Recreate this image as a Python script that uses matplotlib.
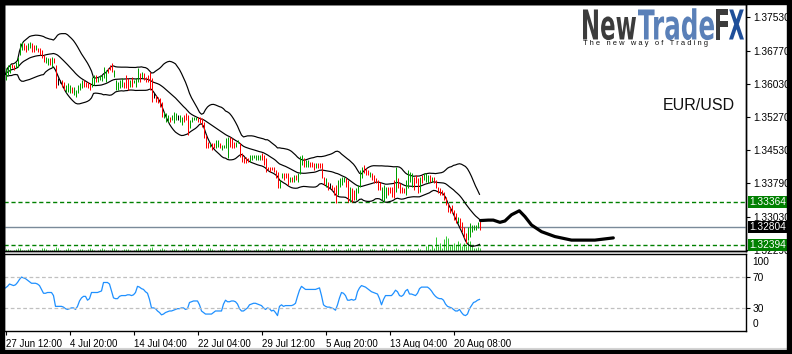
import numpy as np
import pandas as pd
import matplotlib
matplotlib.use("Agg")
import matplotlib.pyplot as plt
from matplotlib.textpath import TextPath
from matplotlib.patches import PathPatch, Rectangle
from matplotlib.font_manager import FontProperties
from matplotlib.transforms import Affine2D, blended_transform_factory

plt.rcParams['font.family'] = ['Liberation Sans', 'DejaVu Sans']

W, H = 792, 354

# EUR/USD H4 bars, 27 Jun 12:00 -> 20 Aug 2014
highs = [
    1.3638, 1.3645, 1.3647, 1.3647, 1.3645, 1.3652, 1.3663, 1.3695, 1.3697, 1.3695,
    1.3690, 1.3695, 1.3697, 1.3695, 1.3690, 1.3690, 1.3683, 1.3683, 1.3679, 1.3668,
    1.3663, 1.3661, 1.3661, 1.3663, 1.3661, 1.3645, 1.3616, 1.3611, 1.3611, 1.3607,
    1.3600, 1.3604, 1.3600, 1.3596, 1.3596, 1.3589, 1.3600, 1.3604, 1.3611, 1.3611,
    1.3607, 1.3607, 1.3604, 1.3618, 1.3622, 1.3622, 1.3618, 1.3622, 1.3622, 1.3641,
    1.3634, 1.3638, 1.3645, 1.3650, 1.3634, 1.3611, 1.3607, 1.3611, 1.3616, 1.3607,
    1.3622, 1.3616, 1.3611, 1.3618, 1.3611, 1.3616, 1.3638, 1.3627, 1.3629, 1.3627,
    1.3618, 1.3622, 1.3629, 1.3616, 1.3582, 1.3578, 1.3573, 1.3571, 1.3562, 1.3539,
    1.3537, 1.3533, 1.3528, 1.3533, 1.3539, 1.3537, 1.3533, 1.3533, 1.3528, 1.3533,
    1.3537, 1.3533, 1.3521, 1.3528, 1.3528, 1.3528, 1.3528, 1.3528, 1.3526, 1.3517,
    1.3488, 1.3472, 1.3469, 1.3469, 1.3469, 1.3476, 1.3476, 1.3469, 1.3465, 1.3465,
    1.3481, 1.3483, 1.3483, 1.3481, 1.3472, 1.3472, 1.3476, 1.3469, 1.3447, 1.3438,
    1.3438, 1.3436, 1.3443, 1.3443, 1.3443, 1.3443, 1.3443, 1.3443, 1.3447, 1.3443,
    1.3436, 1.3415, 1.3415, 1.3415, 1.3415, 1.3409, 1.3404, 1.3386, 1.3402, 1.3402,
    1.3402, 1.3402, 1.3393, 1.3393, 1.3397, 1.3397, 1.3402, 1.3440, 1.3443, 1.3436,
    1.3431, 1.3431, 1.3427, 1.3427, 1.3424, 1.3424, 1.3424, 1.3424, 1.3424, 1.3393,
    1.3391, 1.3382, 1.3379, 1.3375, 1.3371, 1.3375, 1.3386, 1.3391, 1.3393, 1.3393,
    1.3391, 1.3386, 1.3371, 1.3368, 1.3364, 1.3368, 1.3375, 1.3409, 1.3415, 1.3420,
    1.3413, 1.3409, 1.3404, 1.3402, 1.3397, 1.3391, 1.3386, 1.3382, 1.3371, 1.3375,
    1.3371, 1.3371, 1.3371, 1.3371, 1.3386, 1.3415, 1.3391, 1.3379, 1.3371, 1.3368,
    1.3386, 1.3409, 1.3404, 1.3402, 1.3393, 1.3397, 1.3391, 1.3393, 1.3397, 1.3402,
    1.3402, 1.3397, 1.3397, 1.3393, 1.3393, 1.3386, 1.3371, 1.3368, 1.3364, 1.3359,
    1.3348, 1.3334, 1.3325, 1.3330, 1.3318, 1.3312, 1.3303, 1.3301, 1.3292, 1.3281,
    1.3267, 1.3281, 1.3289, 1.3285, 1.3285, 1.3285, 1.3292, 1.3296,
]
lows = [
    1.3611, 1.3622, 1.3627, 1.3638, 1.3634, 1.3638, 1.3641, 1.3668, 1.3679, 1.3679,
    1.3674, 1.3679, 1.3683, 1.3674, 1.3674, 1.3679, 1.3674, 1.3668, 1.3661, 1.3652,
    1.3650, 1.3645, 1.3645, 1.3641, 1.3650, 1.3593, 1.3600, 1.3604, 1.3596, 1.3589,
    1.3584, 1.3584, 1.3582, 1.3582, 1.3578, 1.3573, 1.3582, 1.3589, 1.3593, 1.3596,
    1.3596, 1.3593, 1.3589, 1.3596, 1.3600, 1.3607, 1.3607, 1.3611, 1.3609, 1.3616,
    1.3607, 1.3627, 1.3634, 1.3629, 1.3618, 1.3589, 1.3589, 1.3593, 1.3596, 1.3593,
    1.3593, 1.3589, 1.3596, 1.3596, 1.3604, 1.3596, 1.3607, 1.3607, 1.3616, 1.3611,
    1.3607, 1.3607, 1.3589, 1.3562, 1.3571, 1.3562, 1.3560, 1.3550, 1.3528, 1.3526,
    1.3517, 1.3517, 1.3517, 1.3521, 1.3515, 1.3521, 1.3521, 1.3517, 1.3510, 1.3517,
    1.3521, 1.3488, 1.3504, 1.3517, 1.3521, 1.3521, 1.3517, 1.3515, 1.3506, 1.3481,
    1.3458, 1.3458, 1.3460, 1.3454, 1.3458, 1.3458, 1.3460, 1.3458, 1.3454, 1.3458,
    1.3458, 1.3436, 1.3460, 1.3458, 1.3458, 1.3460, 1.3469, 1.3438, 1.3427, 1.3424,
    1.3424, 1.3427, 1.3427, 1.3431, 1.3436, 1.3431, 1.3431, 1.3431, 1.3431, 1.3420,
    1.3404, 1.3409, 1.3404, 1.3409, 1.3404, 1.3391, 1.3368, 1.3368, 1.3391, 1.3386,
    1.3391, 1.3375, 1.3382, 1.3382, 1.3382, 1.3386, 1.3382, 1.3400, 1.3420, 1.3415,
    1.3415, 1.3415, 1.3415, 1.3415, 1.3409, 1.3413, 1.3413, 1.3413, 1.3391, 1.3375,
    1.3371, 1.3364, 1.3368, 1.3364, 1.3353, 1.3334, 1.3353, 1.3371, 1.3375, 1.3382,
    1.3371, 1.3337, 1.3337, 1.3337, 1.3341, 1.3341, 1.3357, 1.3371, 1.3391, 1.3402,
    1.3397, 1.3397, 1.3393, 1.3386, 1.3379, 1.3379, 1.3364, 1.3364, 1.3341, 1.3337,
    1.3346, 1.3353, 1.3357, 1.3348, 1.3346, 1.3359, 1.3368, 1.3357, 1.3357, 1.3357,
    1.3353, 1.3368, 1.3382, 1.3371, 1.3364, 1.3379, 1.3357, 1.3359, 1.3379, 1.3386,
    1.3382, 1.3379, 1.3382, 1.3382, 1.3379, 1.3368, 1.3357, 1.3353, 1.3353, 1.3341,
    1.3330, 1.3314, 1.3312, 1.3312, 1.3296, 1.3289, 1.3289, 1.3278, 1.3269, 1.3256,
    1.3245, 1.3251, 1.3258, 1.3269, 1.3274, 1.3274, 1.3278, 1.3274,
]
# G = up bar, R = down bar, K = doji
directions = (
    "GGGRRGGGGR" "RGGRRGRRRR" "GGRGRRKKRR" "GGGRGGGGGR" "RRRGGRGGGG"
    "GRRRGGGGGR" "RRGRGGGRGR" "RRRRKRRRRG" "GGRGGGKGGR" "RRGGGGRRRR"
    "RRGRRGGRGG" "GGRRRGGRRR" "RRGGGGGGRR" "RRRRRRRGGR" "RRGRGRGGGR"
    "GGRRRGRRRR" "GRKRRRGGGG" "RRGRRGGGGR" "RRGRRRRRGG" "GRRRRGRRRR"
    "GGGGRRRGRG" "GGRGRRRRRR" "RRRRRRGRRR" "RGGGGGGR"
)
volumes = [
    2400, 1900, 700, 500, 900, 2300, 3100, 2600, 1200, 600,
    800, 2100, 2800, 2400, 1500, 700, 600, 1000, 2600, 3300,
    2200, 900, 600, 800, 2500, 3600, 2700, 1300, 500, 900,
    2200, 2900, 1700, 800, 500, 1000, 2400, 2500, 1600, 600,
    700, 2000, 2700, 2100, 1100, 500, 800, 2300, 2600, 1900,
    900, 600, 1000, 2600, 3400, 2400, 1100, 400, 800, 1900,
    2500, 1800, 700, 500, 900, 2200, 2800, 2000, 1000, 600,
    800, 2400, 3000, 3800, 1400, 600, 900, 2500, 3200, 2200,
    900, 500, 800, 1900, 2400, 1800, 700, 500, 700, 2200,
    2600, 1700, 800, 600, 900, 2000, 2700, 2300, 1100, 500,
    900, 2600, 3000, 2200, 1200, 400, 700, 1800, 2300, 1700,
    800, 500, 700, 2100, 2900, 2000, 900, 600, 900, 2400,
    2500, 1600, 700, 500, 700, 1900, 2200, 1500, 600, 500,
    800, 2300, 2700, 2100, 900, 500, 800, 2600, 3100, 2000,
    800, 600, 700, 2000, 2500, 1700, 900, 3300, 2400, 1200,
    500, 800, 2100, 2600, 1900, 800, 500, 900, 2800, 3000,
    2100, 900, 500, 700, 1900, 2800, 2300, 1000, 500, 700,
    2400, 2900, 2600, 1100, 500, 900, 2300, 3400, 2600, 1200,
    600, 800, 2000, 2500, 1900, 800, 500, 700, 2600, 3000,
    2200, 1000, 600, 900, 2400, 3100, 2000, 900, 600, 900,
    2200, 2500, 1600, 800, 600, 1000, 3200, 2100, 1300, 900,
    5200, 6100, 2400, 5800, 3100, 13800, 5200, 8100, 3300, 12200,
    14900, 12800, 5300, 6200, 8000, 6400, 9800, 8200, 5100, 7900,
    5400, 10200, 9700, 5200, 3200, 3000, 4100, 2900,
]
rsi = [
    56, 58, 61, 60, 59, 60, 63, 67, 70, 69,
    68, 66, 64, 62, 62, 62, 61, 59, 54, 49,
    49, 50, 50, 50, 46, 32, 32, 32, 32, 31,
    29, 28, 29, 30, 30, 28, 32, 39, 43, 45,
    45, 40, 42, 50, 50, 50, 50, 51, 52, 63,
    63, 63, 61, 52, 43, 42, 42, 45, 46, 46,
    46, 47, 47, 46, 47, 50, 58, 57, 55, 54,
    51, 49, 41, 30, 30, 29, 26, 24, 21, 22,
    24, 25, 26, 26, 27, 28, 29, 29, 30, 30,
    28, 29, 37, 38, 39, 39, 39, 34, 26, 24,
    22, 22, 22, 22, 24, 26, 26, 26, 26, 35,
    40, 38, 38, 39, 39, 38, 35, 29, 26, 26,
    28, 30, 34, 35, 36, 36, 35, 34, 33, 30,
    28, 30, 29, 26, 27, 24, 20, 32, 34, 32,
    33, 33, 33, 33, 34, 36, 45, 53, 58, 56,
    54, 54, 54, 54, 54, 54, 55, 56, 46, 34,
    32, 31, 31, 30, 29, 27, 34, 43, 50, 49,
    46, 40, 40, 41, 40, 41, 51, 56, 59, 58,
    57, 55, 53, 51, 50, 49, 48, 42, 34, 41,
    46, 46, 46, 46, 49, 53, 51, 46, 45, 47,
    52, 54, 48, 48, 47, 46, 49, 55, 57, 57,
    57, 57, 55, 52, 48, 45, 43, 42, 42, 40,
    35, 32, 31, 30, 28, 26, 26, 28, 24, 21,
    20, 22, 29, 33, 37, 38, 40, 41,
]

# hand-drawn projection after the last bar
proj_bar = [237.5, 241.4, 243.9, 247.2, 249.7, 253.0, 256.9, 259.7, 263.0, 268.0, 274.7, 283.0, 294.7, 303.9]
proj_price = [1.3295, 1.3296, 1.3296, 1.3291, 1.3294, 1.3308, 1.3317, 1.3304, 1.3285, 1.3270, 1.3259, 1.3251, 1.3251, 1.3256]

price_ticks = [1.37530, 1.36770, 1.36030, 1.35270, 1.34530, 1.33790, 1.33030, 1.32290]
resistance = 1.33364
support = 1.32394
last_price = 1.32804

date_pos = [0, 32, 64, 96, 128, 160, 192, 224]
date_labels = ["27 Jun 12:00", "4 Jul 20:00", "14 Jul 04:00", "22 Jul 04:00",
               "29 Jul 12:00", "5 Aug 20:00", "13 Aug 04:00", "20 Aug 08:00"]

n = len(highs)
x = np.arange(n)
colmap = {"G": "#00a000", "R": "#ff0000", "K": "#000000"}
bar_colors = [colmap[c] for c in directions]

# Bollinger bands (20, 2)
mid = pd.Series((np.array(highs) + np.array(lows)) / 2)
bb_mid = mid.rolling(20, min_periods=1).mean()
bb_sd = mid.rolling(20, min_periods=1).std(ddof=0)
bb_up = bb_mid + 2 * bb_sd
bb_lo = bb_mid - 2 * bb_sd

XLIM = (-0.75, 370.25)  # 2 px per bar, bars centred on pixel columns


def fr(x0, y0, x1, y1):
    return [x0 / W, 1 - y1 / H, (x1 - x0) / W, (y1 - y0) / H]


fig = plt.figure(figsize=(W / 100, H / 100), dpi=100, facecolor="white")

# window frame
for rx, ry, rw, rh in [(0, 0, 4, H), (787, 0, 5, H), (0, 0, W, 4), (0, 350, W, 4)]:
    fig.add_artist(Rectangle((rx / W, 1 - (ry + rh) / H), rw / W, rh / H,
                             transform=fig.transFigure, color="black", zorder=10))
fig.add_artist(plt.Line2D([4 / W, 787 / W], [1 - 348 / H, 1 - 348 / H],
                          transform=fig.transFigure, color="#d4d4d4", lw=0.8))

# main price panel
ax = fig.add_axes(fr(4, 4, 746, 251))
axv = ax.twinx()
axv.vlines(x, 0, volumes, colors="#33cc33", lw=0.72)
axv.set_ylim(0, 247000)
axv.set_yticks([])
axv.set_zorder(0)
ax.set_zorder(1)
ax.patch.set_visible(False)

ax.vlines(x, lows, highs, colors=bar_colors, lw=0.72, zorder=3)
for band in (bb_up, bb_mid, bb_lo):
    ax.plot(x, band, color="black", lw=0.85, zorder=2)

ax.axhline(resistance, color="#008000", lw=1.0, ls=(0, (3, 2)), zorder=1)
ax.axhline(support, color="#008000", lw=1.0, ls=(0, (3, 2)), zorder=1)
ax.axhline(last_price, color="#7a8a99", lw=1.0, zorder=1)
ax.plot(proj_bar, proj_price, color="black", lw=2.3, solid_capstyle="round", zorder=4)

ax.set_xlim(*XLIM)
ax.set_ylim(1.32265, 1.378225)
ax.set_xticks([])
ax.yaxis.tick_right()
ax.set_yticks(price_ticks)
ax.set_yticklabels([f"{p:.5f}" for p in price_ticks])
ax.tick_params(axis="y", direction="out", length=3, width=0.8, pad=2, labelsize=7.3)

tr = blended_transform_factory(ax.transAxes, ax.transData)
for val, fc in [(resistance, "#008000"), (last_price, "#000000"), (support, "#008000")]:
    ax.text(1.0045, val, f"{val:.5f}", transform=tr, ha="left", va="center",
            fontsize=7.3, color="white", clip_on=False, zorder=6,
            bbox=dict(boxstyle="square,pad=0.12", fc=fc, ec="none"))

for a in (ax, axv):
    for s in a.spines.values():
        s.set_linewidth(1.0)

# RSI panel
axr = fig.add_axes(fr(4, 254, 746, 331))
axr.plot(x, rsi, color="#1e90ff", lw=0.9)
axr.axhline(70, color="#c0c0c0", lw=0.9, ls=(0, (3, 2)))
axr.axhline(30, color="#c0c0c0", lw=0.9, ls=(0, (3, 2)))
axr.set_xlim(*XLIM)
axr.set_ylim(0, 100)
axr.yaxis.tick_right()
axr.set_yticks([30, 70])
axr.set_yticklabels(["30", "70"])
axr.tick_params(axis="y", direction="out", length=3, width=0.8, pad=2, labelsize=7.3)
trr = blended_transform_factory(axr.transAxes, axr.transData)
axr.text(1.0085, 89, "100", transform=trr, ha="left", va="center", fontsize=7.3)
axr.text(1.0085, 9, "0", transform=trr, ha="left", va="center", fontsize=7.3)
axr.set_xticks(date_pos)
axr.set_xticklabels(date_labels, ha="left")
axr.tick_params(axis="x", direction="out", length=3, width=0.8, pad=3, labelsize=7)
for s in axr.spines.values():
    s.set_linewidth(1.0)


# logo
def logo_piece(txt, x0, x1, base, cap, color):
    fp = FontProperties(family="DejaVu Sans", weight="bold")
    tp = TextPath((0, 0), txt, size=1, prop=fp)
    ext = tp.get_extents()
    sx = (x1 - x0) / ext.width
    sy = cap / 0.729
    t = (Affine2D().translate(-ext.x0, 0).scale(sx / W, sy / H)
         .translate(x0 / W, 1 - base / H) + fig.transFigure)
    fig.add_artist(PathPatch(tp, transform=t, fc=color, ec="none"))


logo_piece("New", 583, 636, 39.5, 30, "#3c3c3c")
logo_piece("Trade", 638, 714, 39.5, 30, "#5a80b8")
logo_piece("F", 716, 728, 39.5, 30, "#3c3c3c")
logo_piece("X", 729, 744, 39.5, 30, "#1f4f9a")
fig.text(583 / W, 1 - 43.5 / H, "T h e   n e w   w a y   o f   T r a d i n g",
         fontsize=5.4, va="center", ha="left", color="#111111")
fig.text(663 / W, 1 - 110 / H, "EUR/USD", fontsize=11.5, va="baseline",
         ha="left", color="#111111")

fig.savefig("out.png", dpi=100, facecolor="white")
